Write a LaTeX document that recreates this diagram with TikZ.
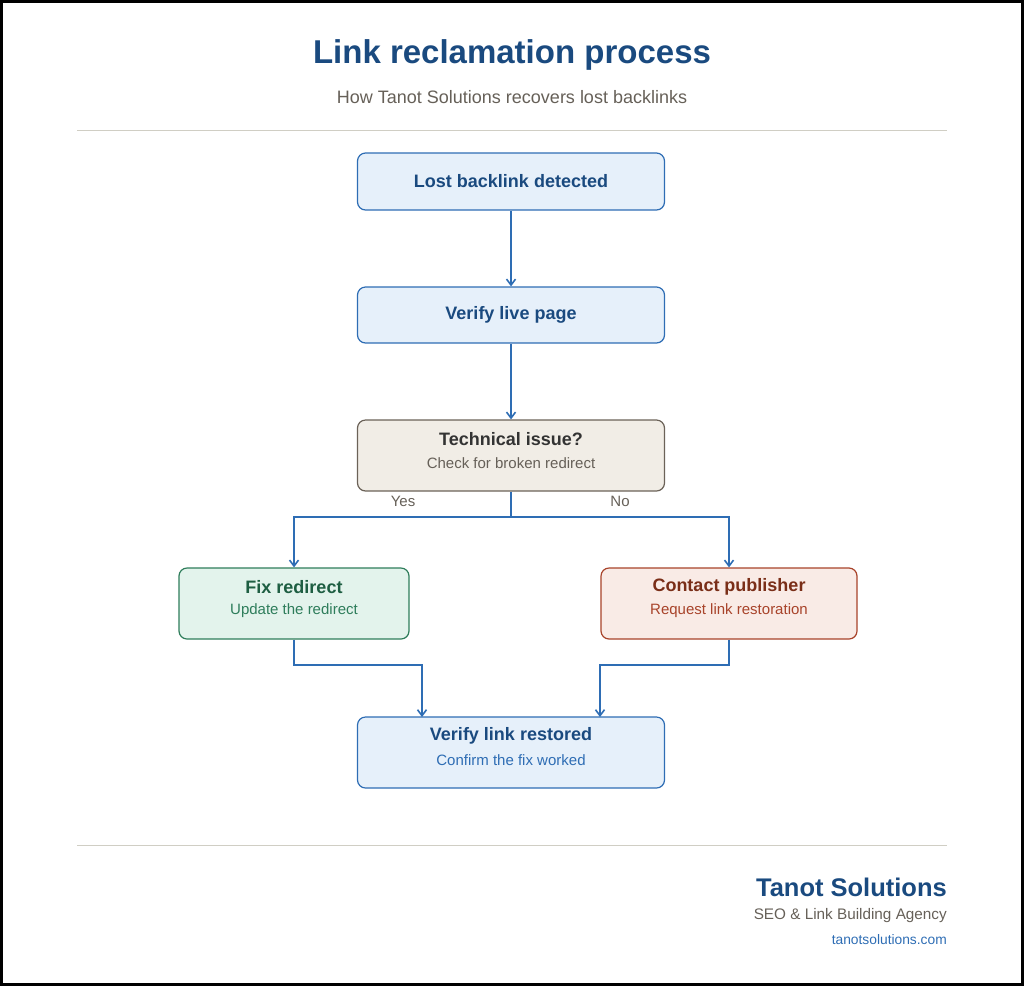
\documentclass[tikz,border=0pt]{standalone}
\usepackage{fontspec}
\setmainfont{Liberation Sans}
\usetikzlibrary{arrows.meta}
\definecolor{navy}{HTML}{1A4A7F}
\definecolor{bfill}{HTML}{E6F0FA}
\definecolor{bline}{HTML}{2E6DB4}
\definecolor{gfill}{HTML}{E3F3EC}
\definecolor{gline}{HTML}{2E7D5B}
\definecolor{gtext}{HTML}{1E5E42}
\definecolor{rfill}{HTML}{F9EBE6}
\definecolor{rline}{HTML}{A8432A}
\definecolor{rtext}{HTML}{7A2E18}
\definecolor{nfill}{HTML}{F1EDE6}
\definecolor{nline}{HTML}{6B6258}
\definecolor{ntext}{HTML}{333333}
\definecolor{sub}{HTML}{666058}
\definecolor{rule}{HTML}{D0CEC4}
\tikzset{
 box/.style={draw, rounded corners=8pt, line width=1.2pt, minimum width=307pt, inner sep=0pt},
 bbox/.style={box, fill=bfill, draw=bline},
 arr/.style={draw=bline, line width=1.6pt, -{Straight Barb[length=6pt,width=9pt]}},
 ln/.style={draw=bline, line width=1.6pt},
 t/.style={font=\fontsize{18}{21}\selectfont\bfseries},
 s/.style={font=\fontsize{15}{18}\selectfont},
}
\begin{document}
\begin{tikzpicture}[x=1pt,y=-1pt]
\useasboundingbox (0,0) rectangle (1024,986);
\draw[line width=3pt] (1.5,1.5) rectangle (1022.5,984.5);
\node[text=navy, font=\fontsize{33}{38}\selectfont\bfseries] (title) at (512,55) {Link reclamation process};
\node[text=sub, font=\fontsize{18}{21}\selectfont] (subt) at (512,97) {How Tanot Solutions recovers lost backlinks};
\draw[rule, line width=1pt] (77,130) -- (947,130);
\node[bbox, minimum height=57pt, text=navy, t] (lost) at (511,181.5) {Lost backlink detected};
\node[bbox, minimum height=56pt, text=navy, t] (live) at (511,315) {Verify live page};
\node[box, fill=nfill, draw=nline, minimum height=71pt] (tech) at (511,455.5) {};
\node[t, text=ntext] (techt) at (511,439) {Technical issue?};
\node[s, text=sub] (techs) at (511,463) {Check for broken redirect};
\node[box, fill=gfill, draw=gline, minimum width=230pt, minimum height=71pt] (fix) at (294,603.5) {};
\node[t, text=gtext] (fixt) at (294,587) {Fix redirect};
\node[s, text=gline] (fixs) at (294,611) {Update the redirect};
\node[box, fill=rfill, draw=rline, minimum width=256pt, minimum height=71pt] (cont) at (729,603.5) {};
\node[t, text=rtext] (contt) at (729,587) {Contact publisher};
\node[s, text=rline] (conts) at (729,611) {Request link restoration};
\node[bbox, minimum height=71pt] (rest) at (511,752.5) {};
\node[t, text=navy] (restt) at (511,736) {Verify link restored};
\node[s, text=bline] (rests) at (511,760) {Confirm the fix worked};
\draw[arr] (lost) -- (live);
\draw[arr] (live) -- (tech);
\coordinate (split) at (511,517);
\draw[ln] (tech.south) -- (split);
\draw[arr] (split) -| (fix.north);
\draw[arr] (split) -| (cont.north);
\node[text=sub, s] (yes) at (403,501) {Yes};
\node[text=sub, s] (no) at (620,501) {No};
\coordinate (f1) at (294,665);
\coordinate (c1) at (729,665);
\draw[arr] (fix.south) -- (f1) -| (422,717);
\draw[arr] (cont.south) -- (c1) -| (600,717);
\draw[rule, line width=1pt] (77,845) -- (947,845);
\node[anchor=east, text=navy, font=\fontsize{25.5}{30}\selectfont\bfseries, inner sep=0pt] (brand) at (947,887) {Tanot Solutions};
\node[anchor=east, text=sub, font=\fontsize{15.3}{18}\selectfont, inner sep=0pt] (tag) at (947,916) {SEO \& Link Building Agency};
\node[anchor=east, text=bline, font=\fontsize{13.8}{16}\selectfont, inner sep=0pt] (url) at (947,940) {tanotsolutions.com};
\end{tikzpicture}
\end{document}
